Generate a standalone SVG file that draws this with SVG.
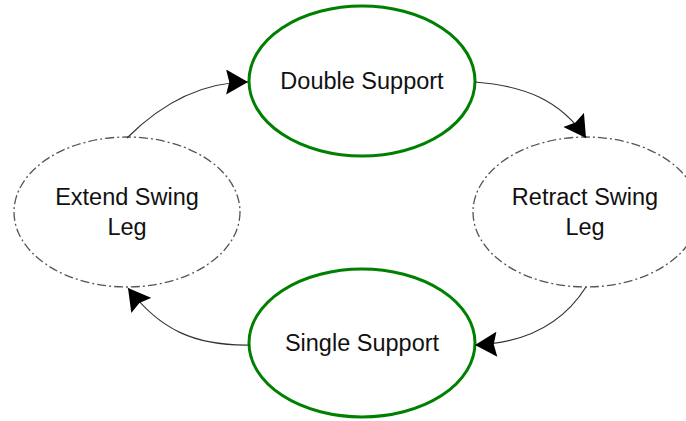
<svg xmlns="http://www.w3.org/2000/svg" width="686" height="421" viewBox="0 0 686 421">
  <style>
    .state { fill: #ffffff; stroke: #008000; stroke-width: 3; }
    .transient { fill: #ffffff; stroke: #555555; stroke-width: 1.3; stroke-dasharray: 9 3 2 3; }
    .label { font-family: "Liberation Sans", Arial, sans-serif; font-size: 23.5px; fill: #111111; text-anchor: middle; }
    .edge { fill: none; stroke: #333333; stroke-width: 1.2; }
  </style>
  <defs>
    <marker id="arrow" markerUnits="userSpaceOnUse" markerWidth="24" markerHeight="25" viewBox="0 0 22 24" refX="21" refY="12" orient="auto">
      <path d="M0,0 L21,12 L0,24 L3,12 Z" fill="#000000"/>
    </marker>
  </defs>
  <rect width="686" height="421" fill="#ffffff"/>

  <g id="double-support">
    <ellipse class="state" cx="362" cy="81" rx="113" ry="75"/>
    <text class="label" x="362" y="89">Double Support</text>
  </g>

  <g id="retract-swing-leg">
    <ellipse class="transient" cx="586" cy="212" rx="113" ry="75"/>
    <text class="label" x="585" y="205">Retract Swing</text>
    <text class="label" x="585" y="235">Leg</text>
  </g>

  <g id="single-support">
    <ellipse class="state" cx="362" cy="343" rx="113" ry="74"/>
    <text class="label" x="362" y="351">Single Support</text>
  </g>

  <g id="extend-swing-leg">
    <ellipse class="transient" cx="127" cy="212" rx="113" ry="75"/>
    <text class="label" x="127" y="205">Extend Swing</text>
    <text class="label" x="127" y="235">Leg</text>
  </g>

  <g id="connectors">
    <path class="edge" d="M127,138 C165,100 205,82 248,82" marker-end="url(#arrow)"/>
    <path class="edge" d="M475,82 C525,86 560,100 586,138" marker-end="url(#arrow)"/>
    <path class="edge" d="M586,287 C565,320 530,343 475,345" marker-end="url(#arrow)"/>
    <path class="edge" d="M250,345 C195,346 160,330 128,288" marker-end="url(#arrow)"/>
  </g>
</svg>
